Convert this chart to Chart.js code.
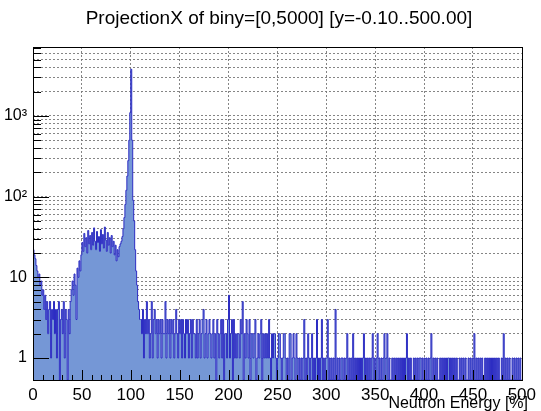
<!DOCTYPE html>
<html><head><meta charset="utf-8">
<script src="https://cdn.jsdelivr.net/npm/chart.js@4"></script>
<style>html,body{margin:0;padding:0;background:#fff}#wrap{width:541px;height:411px}</style>
</head><body><div id="wrap"><canvas id="c" width="541" height="411"></canvas></div>
<script>
const chartTitle = 'ProjectionX of biny=[0,5000] [y=-0.10..500.00]';
const xAxisTitle = 'Neutron Energy [%]';
const binWidth = 1;
const xMin = 0, xMax = 500;
const yMin = 0.534, yMax = 7160;
const xMajorTicks = [0, 50, 100, 150, 200, 250, 300, 350, 400, 450, 500];
const xMinorStep = 10;
const yDecades = [1, 10, 100, 1000];
const yDecadeLabels = ['1', '10', '10²', '10³'];
const counts = [
22,19,17,14,12,10,11,8,9,6,
7,4,6,3,5,2,4,5,1,4,
3,5,2,4,1,4,5,0,3,4,
2,5,1,4,3,0,4,2,5,7,
9,6,11,8,3,13,10,16,12,19,
27,21,35,24,31,20,38,26,33,22,
36,25,41,28,22,37,27,32,21,39,
26,34,23,42,29,21,36,25,31,20,
33,24,28,19,25,16,22,18,24,26,
28,32,40,55,80,120,180,280,500,1100,
3800,500,90,50,22,12,8,5,4,3,
3,2,4,1,3,2,5,2,3,1,
2,5,1,3,4,2,3,1,3,2,
3,1,3,2,2,5,1,3,2,3,
1,3,2,3,1,2,4,2,1,3,
2,3,1,3,2,1,3,2,3,1,
2,3,1,3,2,2,1,3,1,2,
3,1,2,3,4,1,2,3,1,2,
3,2,1,2,3,1,2,0,3,2,
1,2,3,1,3,0,2,2,1,3,
6,1,2,3,0,3,1,2,1,2,
2,1,3,2,5,0,2,1,3,2,
1,3,0,2,2,1,2,3,0,1,
2,1,2,3,0,2,1,2,1,2,
1,3,1,0,2,1,2,2,1,0,
1,2,2,1,0,1,2,2,1,0,
1,0,2,2,0,1,2,1,0,2,
1,0,1,0,1,0,1,3,0,1,
0,2,1,0,1,2,0,1,0,1,
3,0,1,0,1,3,0,1,0,1,
1,3,0,1,0,1,0,1,0,4,
0,1,0,1,0,1,1,0,1,0,
1,2,0,1,0,1,0,2,0,1,
0,1,0,1,0,1,0,1,2,0,
1,0,1,0,1,0,1,2,0,1,
0,1,2,0,1,0,1,0,1,2,
0,1,2,0,1,0,0,1,0,1,
0,1,0,1,0,1,0,1,0,1,
0,1,2,0,1,0,1,0,0,1,
0,1,0,1,0,1,1,0,1,0,
1,0,1,0,1,0,1,2,0,1,
0,1,0,1,0,0,1,0,1,0,
1,0,1,0,1,1,0,1,0,1,
0,1,0,1,0,0,1,0,1,0,
1,0,1,0,0,1,0,1,0,1,
0,2,0,1,0,1,0,1,0,1,
0,0,1,0,1,0,1,0,1,0,
1,0,1,0,1,0,1,0,0,1,
0,2,0,1,0,1,0,1,0,0,
1,0,1,0,1,0,1,0,1,0
];

const FONT = 'Liberation Sans, Arial, Helvetica, sans-serif';
// empty bins sit on the floor of the log axis (log scales cannot show 0)
const points = counts.map((c, i) => ({ x: xMin + i * binWidth, y: c > 0 ? c : yMin }));
points.push({ x: xMin + counts.length * binWidth, y: points[points.length - 1].y });

const yTickValues = [];
yDecades.forEach(d => { for (let m = 1; m <= 9; m++) { if (d * m <= yMax) yTickValues.push(d * m); } });

const framePlugin = {
  id: 'frame',
  afterDraw(chart) {
    const { ctx, chartArea: a, scales } = chart;
    const xs = scales.x, ys = scales.y;
    ctx.save();
    ctx.strokeStyle = '#000';
    ctx.lineWidth = 1;
    ctx.beginPath();
    for (let v = xMin; v <= xMax; v += xMinorStep) {
      const px = Math.round(xs.getPixelForValue(v)) + 0.5;
      const len = xMajorTicks.includes(v) ? 10 : 5;
      ctx.moveTo(px, a.bottom); ctx.lineTo(px, a.bottom - len);
    }
    yTickValues.forEach(v => {
      const py = Math.round(ys.getPixelForValue(v)) + 0.5;
      const len = yDecades.includes(v) ? 16 : 8;
      ctx.moveTo(a.left, py); ctx.lineTo(a.left + len, py);
    });
    ctx.stroke();
    ctx.strokeRect(Math.round(a.left) + 0.5, Math.round(a.top) + 0.5, Math.round(a.right - a.left), Math.round(a.bottom - a.top));
    ctx.fillStyle = '#000';
    ctx.font = '19px ' + FONT;
    ctx.textAlign = 'center';
    ctx.textBaseline = 'alphabetic';
    ctx.fillText(chartTitle, 279, 24);
    ctx.font = '16px ' + FONT;
    ctx.textAlign = 'right';
    ctx.fillText(xAxisTitle, 528, 408);
    ctx.restore();
  }
};

new Chart(document.getElementById('c'), {
  type: 'line',
  data: {
    datasets: [{
      data: points,
      stepped: 'before',
      borderColor: 'rgb(45,45,195)',
      borderWidth: 1,
      backgroundColor: 'rgb(117,151,214)',
      fill: 'start',
      pointRadius: 0,
      tension: 0
    }]
  },
  options: {
    responsive: false,
    animation: false,
    devicePixelRatio: 1,
    layout: { padding: { top: 47, right: 12, left: 0, bottom: 0 } },
    plugins: { legend: { display: false }, title: { display: false }, tooltip: { enabled: false } },
    scales: {
      x: {
        type: 'linear', min: xMin, max: xMax, z: 1,
        afterBuildTicks: s => { s.ticks = xMajorTicks.map(v => ({ value: v })); },
        afterFit: s => { s.height = 31; },
        ticks: { autoSkip: false, maxRotation: 0, padding: 5, color: '#000', font: { family: FONT, size: 17 } },
        grid: {
          drawTicks: false,
          color: c => (c.tick && c.tick.value > xMin && c.tick.value < xMax) ? 'rgba(120,120,120,0.9)' : 'rgba(0,0,0,0)',
          lineWidth: 1
        },
        border: { display: false, dash: [2, 2] }
      },
      y: {
        type: 'logarithmic', min: yMin, max: yMax, z: 1,
        afterBuildTicks: s => { s.ticks = yTickValues.map(v => ({ value: v })); },
        afterFit: s => { s.width = 33; },
        ticks: {
          autoSkip: false, padding: 6, color: '#000', font: { family: FONT, size: 16 },
          callback: v => { const i = yDecades.indexOf(v); return i >= 0 ? yDecadeLabels[i] : ''; }
        },
        grid: { drawTicks: false, color: 'rgba(120,120,120,0.9)', lineWidth: 1 },
        border: { display: false, dash: [2, 2] }
      }
    }
  },
  plugins: [framePlugin]
});
</script>
</body></html>
